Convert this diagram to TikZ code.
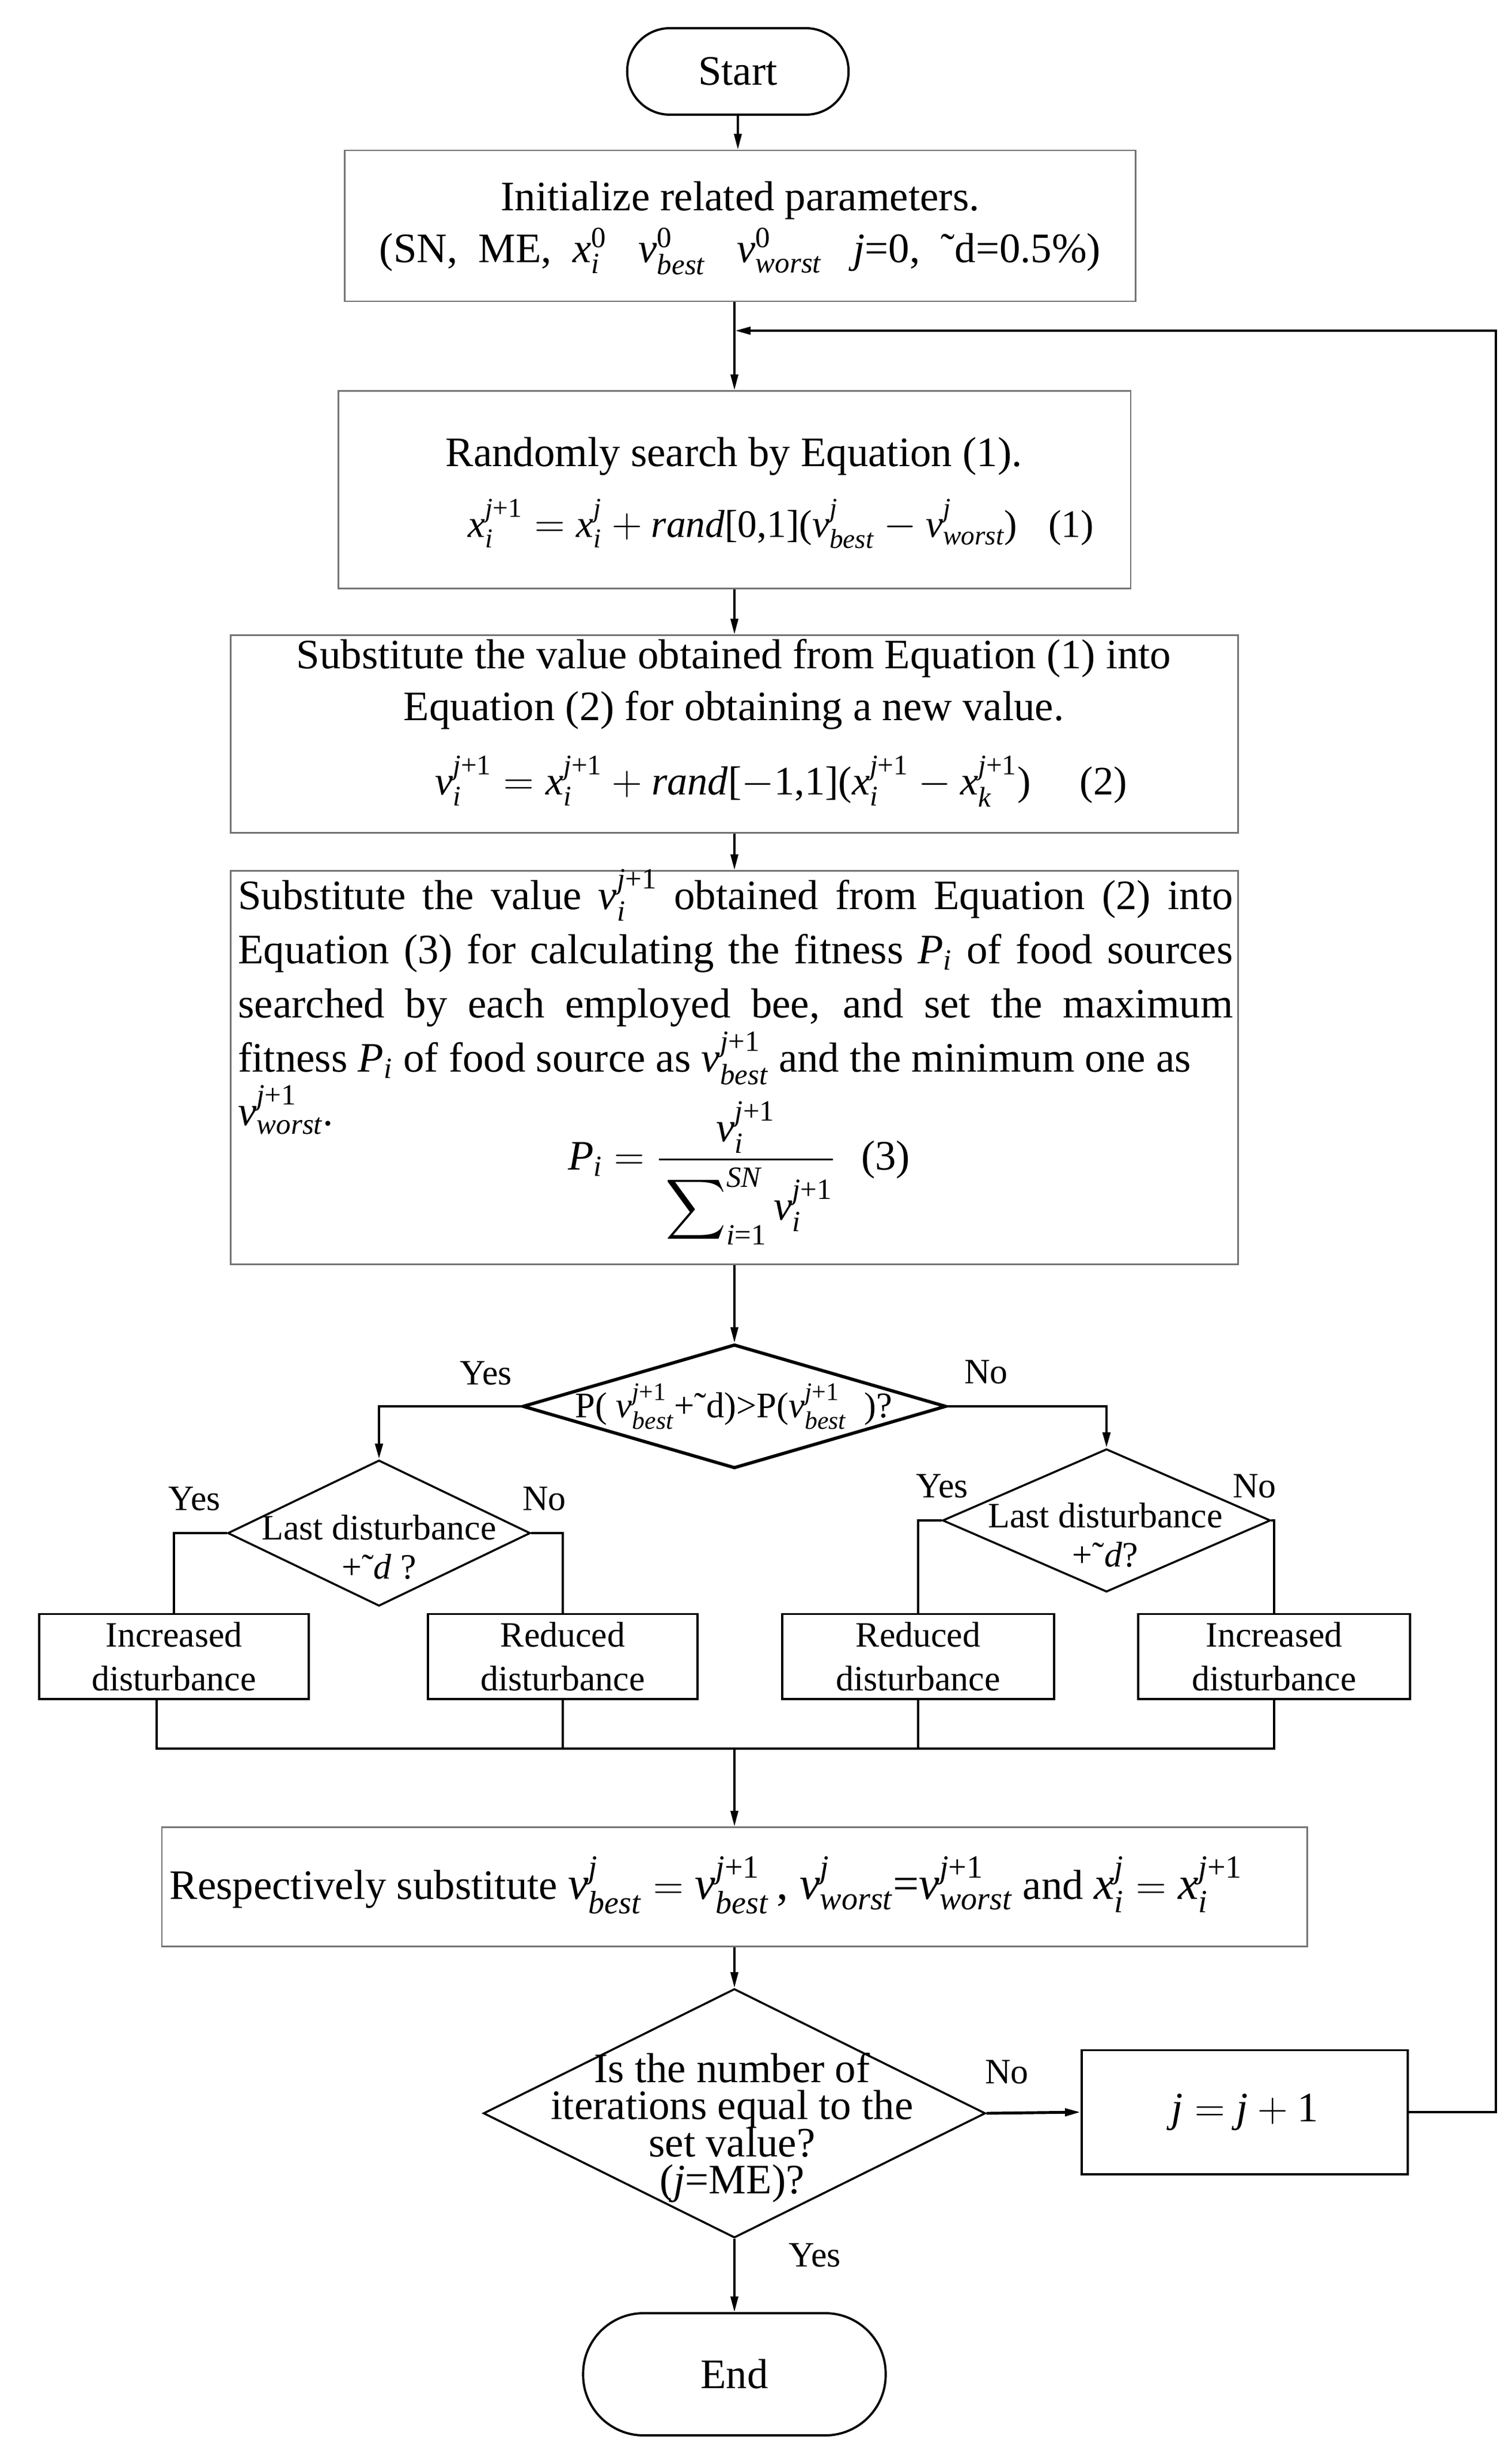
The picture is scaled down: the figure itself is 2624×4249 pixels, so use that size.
\documentclass[tikz,border=0pt]{standalone}
\usepackage{amsmath}
\usepackage{fontspec}
\setmainfont{Liberation Serif}
\usetikzlibrary{arrows.meta,shapes.geometric}
\newcommand{\mi}[1]{\text{\itshape #1}}
\newcommand{\mr}[1]{\text{\upshape #1}}
\newcommand{\jp}{\mi{j}\mr{+1}}
\begin{document}
\begin{tikzpicture}[x=0.01cm,y=-0.01cm,
  every node/.style={font=\fontsize{20.7}{25.6}\selectfont, inner sep=0pt},
  box/.style={draw=black!55, line width=0.8pt, rectangle},
  sbox/.style={draw=black, line width=1.1pt, rectangle, align=center, font=\fontsize{17.6}{21.7}\selectfont},
  dia/.style={draw=black, line width=1pt, diamond, inner sep=0pt},
  lab/.style={font=\fontsize{17.6}{21}\selectfont},
  con/.style={line width=1pt},
  arr/.style={line width=1pt, -{Triangle[length=0.27cm,width=0.13cm]}},
]
\fill[white] (0,0) rectangle (2624,4249);
\useasboundingbox (0,0) rectangle (2624,4249);

% nodes
\node[draw, line width=1.1pt, rounded corners=0.74cm, minimum width=3.84cm, minimum height=1.5cm] (start) at (1281,124) {Start};

\node[box, minimum width=13.72cm, minimum height=2.62cm] (init) at (1285,392) {};
\node[align=center] (initt) at (1285,396) {Initialize related parameters.\\(SN,\ \ ME,\ \ $\mi{x}_{\mi{i}}^{\mr{0}}$\ \ \ $\mi{v}_{\mi{best}}^{\mr{0}}$\ \ \ $\mi{v}_{\mi{worst}}^{\mr{0}}$\ \ \ \textit{j}=0,\ \ ˜d=0.5\%)};

\node[box, minimum width=13.75cm, minimum height=3.43cm] (rand) at (1275,850) {};
\node (randt) at (1274,792) {Randomly search by Equation (1).};
\node[font=\fontsize{19.2}{24}\selectfont] (eq1) at (1356,909) {$\mi{x}_{\mi{i}}^{\jp} = \mi{x}_{\mi{i}}^{\mi{j}} + \mi{rand}\mr{[0,1](}\mi{v}_{\mi{best}}^{\mi{j}} - \mi{v}_{\mi{worst}}^{\mi{j}}\mr{)}$\hspace{0.54cm}(1)};

\node[box, minimum width=17.48cm, minimum height=3.43cm] (sub1) at (1275,1274) {};
\node[align=center] (sub1t) at (1274,1188) {Substitute the value obtained from Equation (1) into\\Equation (2) for obtaining a new value.};
\node[font=\fontsize{20}{24}\selectfont] (eq2) at (1356,1356) {$\mi{v}_{\mi{i}}^{\jp} = \mi{x}_{\mi{i}}^{\jp} + \mi{rand}\mr{[}{-}\mr{1,1](}\mi{x}_{\mi{i}}^{\jp} - \mi{x}_{\mi{k}}^{\jp}\mr{)}$\hspace{0.85cm}(2)};

\node[box, minimum width=17.48cm, minimum height=6.83cm] (sub2) at (1275,1853) {};
\node[text width=17.26cm, align=left, anchor=north, font=\fontsize{20.7}{26.7}\selectfont] (sub2t) at (1277,1508) {\spaceskip=0pt\xspaceskip=0pt%
\makebox[17.26cm][s]{Substitute the value $\mi{v}_{\mi{i}}^{\jp}$ obtained from Equation (2) into}\\
\makebox[17.26cm][s]{Equation (3) for calculating the fitness $\mi{P}_{\mi{i}}$ of food sources}\\
\makebox[17.26cm][s]{searched by each employed bee, and set the maximum}\\
fitness $\mi{P}_{\mi{i}}$ of food source as $\mi{v}_{\mi{best}}^{\jp}$ and the minimum one as};
\node[anchor=north west] (vw) at (sub2t.south west) {$\mi{v}_{\mi{worst}}^{\jp}$.};
\node (eq3) at (1283,2036) {$\mi{P}_{\mi{i}} = \dfrac{\mi{v}_{\mi{i}}^{\jp}}{\rule{0pt}{1.3em}\displaystyle\sum\nolimits_{\mi{i}\mr{=1}}^{\mi{SN}}\mi{v}_{\mi{i}}^{\jp}}$\hspace{0.45cm}(3)};

\node[dia, line width=1.6pt, minimum width=7.35cm, minimum height=2.15cm] (d1) at (1275,2441) {};
\node[font=\fontsize{17.8}{22}\selectfont] (d1t) at (1274,2441) {P(\ $\mi{v}_{\mi{best}}^{\jp}$+˜d)>P($\mi{v}_{\mi{best}}^{\jp}$\ \ )?};

\node[dia, minimum width=5.25cm, minimum height=2.53cm] (d2) at (658,2661) {};
\node[align=center, font=\fontsize{17.6}{19.3}\selectfont] (d2t) at (658,2685) {Last disturbance\\+˜\textit{d} ?};
\node[dia, minimum width=5.69cm, minimum height=2.48cm] (d3) at (1921,2639) {};
\node[align=center, font=\fontsize{17.6}{19.3}\selectfont] (d3t) at (1919,2664) {Last disturbance\\+˜\textit{d}?};

\node[sbox, minimum width=4.68cm, minimum height=1.47cm] (inc1) at (302,2875) {Increased\\disturbance};
\node[sbox, minimum width=4.68cm, minimum height=1.47cm] (red1) at (977,2875) {Reduced\\disturbance};
\node[sbox, minimum width=4.71cm, minimum height=1.47cm] (red2) at (1594,2875) {Reduced\\disturbance};
\node[sbox, minimum width=4.71cm, minimum height=1.47cm] (inc2) at (2212,2875) {Increased\\disturbance};

\node[box, minimum width=19.87cm, minimum height=2.07cm] (resp) at (1275,3275) {};
\node[anchor=west] (respt) at (294,3272) {Respectively substitute {\fontsize{22.8}{28}\selectfont$\mi{v}_{\mi{best}}^{\mi{j}} = \mi{v}_{\mi{best}}^{\jp}$\,, $\mi{v}_{\mi{worst}}^{\mi{j}}$=$\mi{v}_{\mi{worst}}^{\jp}$} and {\fontsize{22.8}{28}\selectfont$\mi{x}_{\mi{i}}^{\mi{j}} = \mi{x}_{\mi{i}}^{\jp}$}};

\node[dia, minimum width=8.71cm, minimum height=4.32cm] (d4) at (1275,3668) {};
\node[align=center, font={\fontsize{20.7}{18.3}\selectfont\lineskiplimit=-100pt}] (d4t) at (1271,3693) {Is the number of\\iterations equal to the\\set value?\\(\textit{j}=ME)?};

\node[draw, line width=1.1pt, minimum width=5.66cm, minimum height=2.15cm] (jbox) at (2161,3666) {$\mi{j} = \mi{j} + \mr{1}$};

\node[draw, line width=1.1pt, rounded corners=1.05cm, minimum width=5.25cm, minimum height=2.12cm] (end) at (1275,4121) {End};

% coordinates
\coordinate (fbj) at (1276,574);
\coordinate (fbr) at (2597,574);
\coordinate (mL) at (272,3035);
\coordinate (mR) at (2212,3035);

% connectors
\draw[arr] (start.south) -- (start.south |- init.north);
\draw[arr] (rand.north |- init.south) -- (rand.north);
\draw[arr, line width=1.3pt] (jbox.east) -| (fbr) -- (fbj);
\draw[arr] (rand.south) -- (sub1.north);
\draw[arr] (sub1.south) -- (sub2.north);
\draw[arr] (sub2.south) -- (d1.north);
\draw[arr, line width=1.4pt] (d1.west) -| (d2.north);
\draw[arr, line width=1.4pt] (d1.east) -| (d3.north);
\draw[con, line width=1.4pt] (d2.west) -| (inc1.north);
\draw[con, line width=1.4pt] (d2.east) -| (red1.north);
\draw[con, line width=1.4pt] (d3.west) -| (red2.north);
\draw[con, line width=1.4pt] (d3.east) -| (inc2.north);
\draw[con] (inc1.south -| mL) -- (mL) -- (mR) -- (inc2.south);
\draw[con] (red1.south) -- (red1.south |- mL);
\draw[con] (red2.south) -- (red2.south |- mL);
\draw[arr] (resp.north |- mL) -- (resp.north);
\draw[arr] (resp.south) -- (d4.north);
\draw[arr, line width=1.4pt] (d4.east) -- (jbox.west);
\draw[arr] (d4.south) -- (end.north);

% labels
\node[lab] (y1) at (844,2384) {Yes};
\node[lab] (n1) at (1712,2382) {No};
\node[lab] (y2) at (338,2602) {Yes};
\node[lab] (n2) at (945,2602) {No};
\node[lab] (y3) at (1636,2580) {Yes};
\node[lab] (n3) at (2178,2580) {No};
\node[lab] (n4) at (1748,3596) {No};
\node[lab] (y4) at (1415,3914) {Yes};
\end{tikzpicture}
\end{document}
